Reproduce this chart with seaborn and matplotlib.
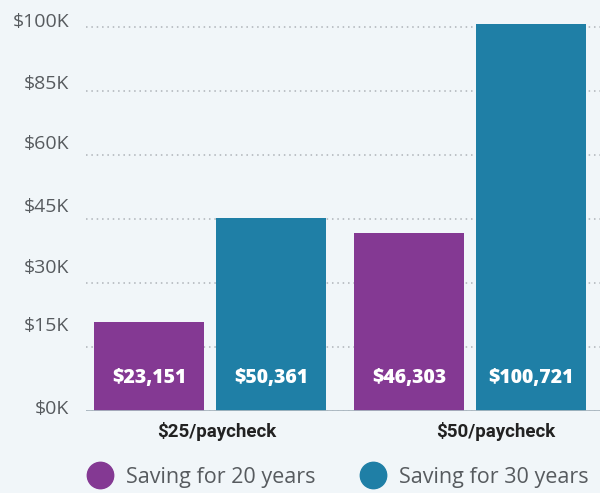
import numpy as np
import pandas as pd
import matplotlib
matplotlib.use('Agg')
import matplotlib.pyplot as plt
import matplotlib.transforms as mtransforms
from matplotlib.lines import Line2D
import seaborn as sns

# data
plans = ['$25/paycheck', '$50/paycheck']
saving_20 = [23151, 46303]
saving_30 = [50361, 100721]
series_names = ['Saving for 20 years', 'Saving for 30 years']
tick_values = [0, 16667, 33333, 50000, 66667, 83333, 100000]
tick_labels = ['$0K', '$15K', '$30K', '$45K', '$60K', '$85K', '$100K']

purple = '#843993'
teal = '#1f7fa6'
bg = '#f1f6f9'

df = pd.DataFrame({
    'plan': plans * 2,
    'value': saving_20 + saving_30,
    'series': [series_names[0]] * 2 + [series_names[1]] * 2,
})

sns.set_style('white')
plt.rcParams['font.family'] = ['Open Sans', 'DejaVu Sans']

fig = plt.figure(figsize=(6, 4.93), dpi=100, facecolor=bg)
ax = fig.add_axes([86/600, (493-411)/493, (600-86)/600, 411/493])
ax.set_facecolor(bg)

sns.barplot(data=df, x='plan', y='value', hue='series', palette=[purple, teal],
            width=0.938, gap=0.098, saturation=1, linewidth=0, edgecolor='none',
            legend=False, ax=ax, zorder=3)

ax.set_xlim(-0.477, 1.5)
ax.set_ylim(0, 100000*411/384)
for s in ax.spines.values():
    s.set_visible(False)

# y ticks / grid (labels sit a bit above their gridline)
ax.set_yticks(tick_values)
ax.set_yticklabels(tick_labels, fontsize=14, color='#575b5f')
ax.tick_params(axis='y', length=0, pad=12)
label_lift = [4, 23, 17, 14, 13, 9, 7]
for lab, dy in zip(ax.get_yticklabels(), label_lift):
    lab.set_transform(lab.get_transform() + mtransforms.ScaledTranslation(0, dy/100, fig.dpi_scale_trans))
ax.yaxis.grid(True, linestyle=(0, (1, 2.5)), color='#aeb3b8', linewidth=1.1, zorder=0)
ax.set_axisbelow(True)
ax.axhline(0, color='#a9b6bf', linewidth=2, zorder=4)

# x tick labels
ax.set_xlabel('')
ax.set_ylabel('')
ax.tick_params(axis='x', length=0, pad=8)
ax.set_xticks([0, 1])
ax.set_xticklabels(plans, fontsize=13.5, fontweight='bold', color='#222222',
                   family=['Roboto', 'DejaVu Sans'])
for lab, dx in zip(ax.get_xticklabels(), [7, 26]):
    lab.set_transform(lab.get_transform() + mtransforms.ScaledTranslation(dx/100, 0, fig.dpi_scale_trans))

# value labels near the bottom of each bar
for container, vals in zip(ax.containers, [saving_20, saving_30]):
    for bar, val in zip(container, vals):
        ax.annotate('${:,}'.format(val), (bar.get_x() + bar.get_width()/2, 0),
                    xytext=(0, 24), textcoords='offset points', ha='center', va='center',
                    color='white', fontsize=14, fontweight='heavy', zorder=5)

# legend with circles
handles = [Line2D([], [], marker='o', linestyle='', markersize=19, color=c) for c in [purple, teal]]
fig.legend(handles, series_names, loc='center left', bbox_to_anchor=(87/600, 1-477/493),
           ncol=2, frameon=False, fontsize=15.5, labelcolor='#575b5f',
           handletextpad=0.6, columnspacing=2.1, handlelength=1.2, borderpad=0, borderaxespad=0)

fig.savefig('out.png', dpi=100, facecolor=bg)
